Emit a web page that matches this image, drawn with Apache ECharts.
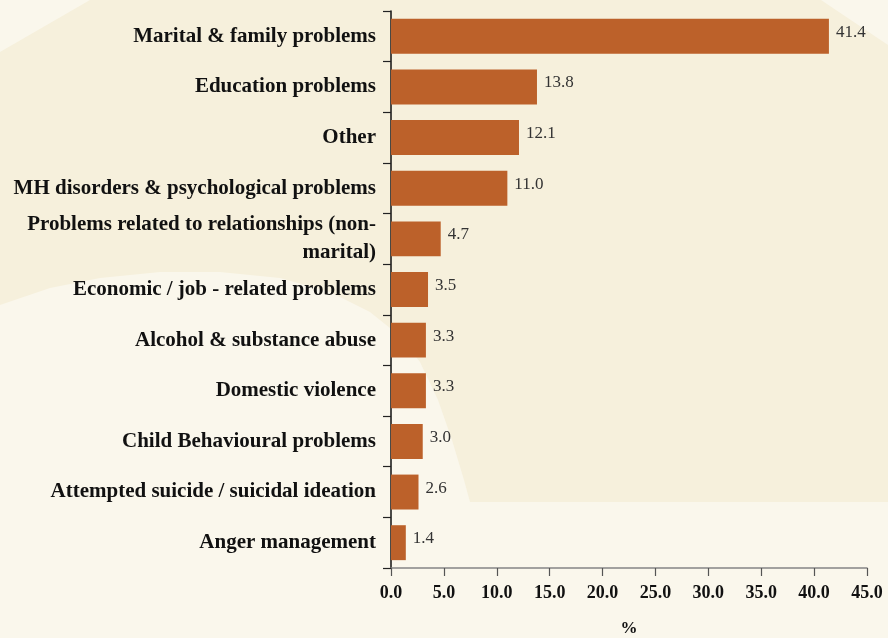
<!DOCTYPE html>
<html>
<head>
<meta charset="utf-8">
<script src="https://cdn.jsdelivr.net/npm/echarts@6/dist/echarts.min.js"></script>
<style>
  html, body { margin: 0; padding: 0; }
  #chart { width: 888px; height: 638px; }
</style>
</head>
<body>
<div id="chart"></div>
<script>
// Reasons for referral, share of cases (%)
const categories = [
  'Marital & family problems',
  'Education problems',
  'Other',
  'MH disorders & psychological problems',
  'Problems related to relationships (non-\nmarital)',
  'Economic / job - related problems',
  'Alcohol & substance abuse',
  'Domestic violence',
  'Child Behavioural problems',
  'Attempted suicide / suicidal ideation',
  'Anger management'
];
const percentages = [41.4, 13.8, 12.1, 11.0, 4.7, 3.5, 3.3, 3.3, 3.0, 2.6, 1.4];
const axisTitle = '%';

const serif = '"Liberation Serif", "DejaVu Serif", serif';
const darkCream = '#F6F0DC';
const lightCream = '#FAF7EC';

// outline of the lighter lower backdrop swoosh
const swoosh = [
  [0, 305], [50, 288], [100, 278], [160, 272], [220, 272], [280, 278],
  [330, 292], [370, 312], [400, 336], [420, 362], [438, 400], [452, 440],
  [464, 480], [470, 502], [888, 502], [888, 638], [0, 638]
];

const chart = echarts.init(document.getElementById('chart'), null, { renderer: 'canvas' });

chart.setOption({
  backgroundColor: darkCream,
  animation: false,
  graphic: [
    { type: 'polygon', z: -100, silent: true,
      shape: { points: [[0, 0], [90, 0], [0, 52]] },
      style: { fill: lightCream } },
    { type: 'polygon', z: -100, silent: true,
      shape: { points: [[821, 0], [888, 0], [888, 45]] },
      style: { fill: lightCream } },
    { type: 'polygon', z: -100, silent: true,
      shape: { points: swoosh },
      style: { fill: lightCream } }
  ],
  grid: {
    left: 391, top: 11, right: 21, bottom: 70,
    containLabel: false, outerBoundsMode: 'none'
  },
  xAxis: {
    type: 'value',
    min: 0, max: 45, interval: 5,
    name: axisTitle,
    nameLocation: 'middle',
    nameGap: 52,
    nameTextStyle: { fontFamily: serif, fontWeight: 'bold', fontSize: 17, color: '#111' },
    axisLine: { show: true, lineStyle: { color: '#858585', width: 1.5 } },
    axisTick: { show: true, length: 8, lineStyle: { color: '#555', width: 1.2 } },
    splitLine: { show: false },
    axisLabel: {
      margin: 16,
      fontFamily: serif, fontWeight: 'bold', fontSize: 18, color: '#111',
      formatter: v => v.toFixed(1)
    }
  },
  yAxis: {
    type: 'category',
    data: categories,
    inverse: true,
    axisLine: { show: true, lineStyle: { color: '#111', width: 1.5 } },
    axisTick: { show: true, length: 8, lineStyle: { color: '#222', width: 1.2 } },
    axisLabel: {
      margin: 15,
      fontFamily: serif, fontWeight: 'bold', fontSize: 21, color: '#111',
      lineHeight: 28, align: 'right'
    }
  },
  series: [{
    type: 'bar',
    data: percentages,
    barCategoryGap: '31%',
    itemStyle: { color: '#BC612A' },
    label: {
      show: true,
      position: 'right',
      distance: 7,
      offset: [0, -4],
      fontFamily: serif, fontSize: 17, color: '#333',
      formatter: p => p.value.toFixed(1)
    }
  }]
});
</script>
</body>
</html>
